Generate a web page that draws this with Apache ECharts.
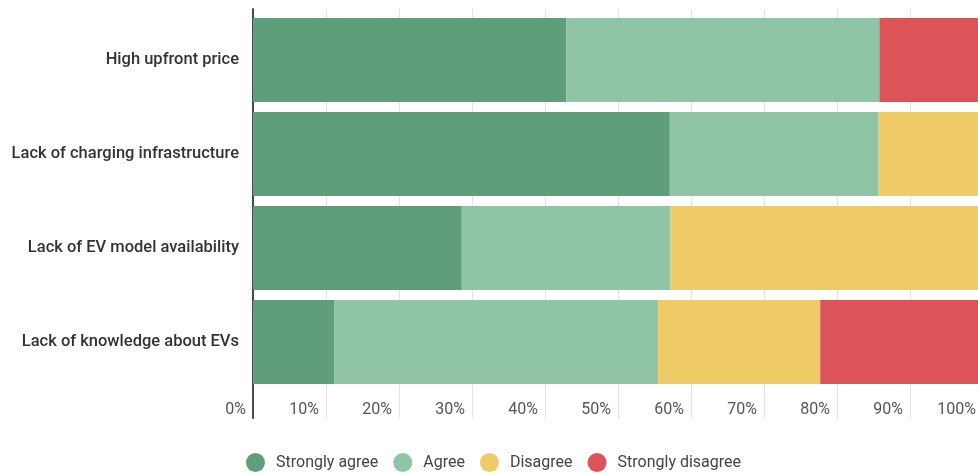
<!DOCTYPE html>
<html>
<head>
<meta charset="utf-8">
<title>Barriers to EV adoption</title>
<script src="https://cdn.jsdelivr.net/npm/echarts@6/dist/echarts.min.js"></script>
<style>
  html, body { margin: 0; padding: 0; background: #ffffff; overflow: hidden; }
  /* the plot runs slightly past the right edge of the window */
  #chart { width: 990px; height: 473px; }
</style>
</head>
<body>
<div id="chart"></div>
<script>
// Survey statements (top to bottom)
const categories = [
  'High upfront price',
  'Lack of charging infrastructure',
  'Lack of EV model availability',
  'Lack of knowledge about EVs'
];

// Share of respondents per answer, in percent
const stronglyAgree    = [42.9, 57.1, 28.6, 11.1];
const agree            = [42.9, 28.6, 28.6, 44.4];
const disagree         = [0,    14.3, 42.9, 22.2];
const stronglyDisagree = [14.3, 0,    0,    22.2];

const seriesNames = ['Strongly agree', 'Agree', 'Disagree', 'Strongly disagree'];
const seriesValues = [stronglyAgree, agree, disagree, stronglyDisagree];
const seriesColors = ['#5e9e7b', '#8fc4a7', '#eecb67', '#dc5358'];

const xTicks = [0, 10, 20, 30, 40, 50, 60, 70, 80, 90, 100];

const FONT = 'Roboto, "Noto Sans", sans-serif';

const chart = echarts.init(document.getElementById('chart'), null, { renderer: 'canvas' });

const option = {
  animation: false,
  textStyle: { fontFamily: FONT },
  legend: {
    data: seriesNames,
    top: 448,
    left: 241,
    icon: 'circle',
    itemWidth: 19,
    itemHeight: 19,
    itemGap: 15,
    textStyle: { fontSize: 16, color: '#444', fontFamily: FONT, padding: [0, 0, 0, 6] }
  },
  grid: [
    // bars
    { left: 253, width: 730, top: 13, height: 376, containLabel: false },
    // gridlines, baseline and percentage labels
    { left: 253, width: 730, top: 9, height: 409, containLabel: false }
  ],
  xAxis: [
    {
      gridIndex: 0, type: 'value', min: 0, max: 100, interval: 10,
      axisLine: { show: false }, axisTick: { show: false },
      axisLabel: { show: false }, splitLine: { show: false }
    },
    {
      gridIndex: 1, type: 'value', min: xTicks[0], max: xTicks[xTicks.length - 1], interval: 10,
      axisLine: { show: false }, axisTick: { show: false },
      splitLine: { show: true, lineStyle: { color: '#e3e3e3', width: 1 } },
      axisLabel: {
        inside: true,
        margin: 0,
        align: 'right',
        padding: [0, 7, 0, 0],
        fontSize: 16,
        color: '#555',
        fontFamily: FONT,
        formatter: v => v + '%'
      }
    }
  ],
  yAxis: [
    {
      gridIndex: 0, type: 'category', data: categories, inverse: true,
      axisLine: { show: false }, axisTick: { show: false },
      axisLabel: { margin: 14, fontSize: 16.5, fontWeight: 500, color: '#333', fontFamily: FONT }
    },
    {
      gridIndex: 1, type: 'value', min: 0, max: 1,
      axisLine: { show: true, lineStyle: { color: '#4a4a4a', width: 2 } },
      axisTick: { show: false }, axisLabel: { show: false }, splitLine: { show: false }
    }
  ],
  series: seriesNames.map((name, i) => ({
    name: name,
    type: 'bar',
    stack: 'total',
    xAxisIndex: 0,
    yAxisIndex: 0,
    barCategoryGap: '10.6%',
    z: 3,
    itemStyle: { color: seriesColors[i] },
    data: seriesValues[i]
  }))
};

chart.setOption(option);
</script>
</body>
</html>
